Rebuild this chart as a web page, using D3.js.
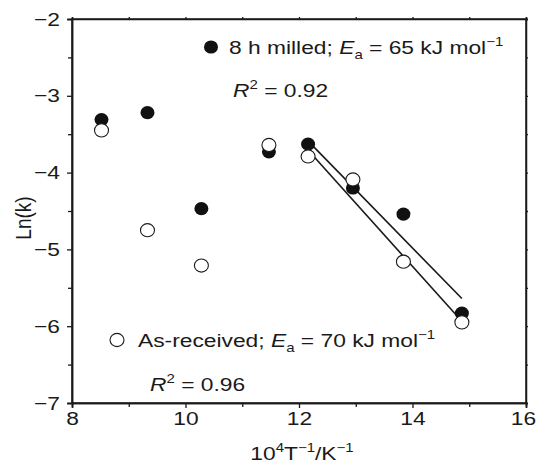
<!DOCTYPE html>
<html>
<head>
<meta charset="utf-8">
<script src="https://cdn.jsdelivr.net/npm/d3@7"></script>
<style>
  html, body { margin: 0; padding: 0; background: #fff; }
  svg { display: block; }
  text { font-family: "Liberation Sans", Arial, Helvetica, sans-serif; fill: #1a1a1a; }
</style>
</head>
<body>
<div id="chart"></div>
<script>
// Arrhenius data: x = 10^4/T (K^-1), y = ln(k)
const invT        = [8.52, 9.33, 10.28, 11.47, 12.16, 12.95, 13.84, 14.87];
const lnkMilled   = [-3.31, -3.22, -4.47, -3.73, -3.63, -4.20, -4.54, -5.83];
const lnkReceived = [-3.45, -4.75, -5.21, -3.64, -3.79, -4.09, -5.16, -5.95];

// Linear fits over the high-1/T range (endpoints: [x, y])
const fitMilled   = [[12.20, -3.62], [14.87, -5.64]];
const fitReceived = [[12.15, -3.70], [14.85, -5.92]];

const xTicks = [8, 10, 12, 14, 16];
const xMinor = [9, 11, 13, 15];
const yTicks = [-2, -3, -4, -5, -6, -7];
const yMinor = [-2.5, -3.5, -4.5, -5.5, -6.5];

const W = 537, H = 465;
const m = { left: 72, right: 11, top: 19, bottom: 62 };

const svg = d3.select("#chart").append("svg").attr("width", W).attr("height", H);

const x = d3.scaleLinear().domain([8, 16]).range([m.left, W - m.right]);
const y = d3.scaleLinear().domain([-7, -2]).range([H - m.bottom, m.top]);

const ink = "#1a1a1a";
const fs = 19;      // base font size
const sx = 1.2;     // horizontal widening of the lettering
const sub = 12.5;   // sub/superscript size

// Frame
svg.append("rect")
  .attr("x", x(8)).attr("y", y(-2))
  .attr("width", x(16) - x(8)).attr("height", y(-7) - y(-2))
  .attr("fill", "none").attr("stroke", ink).attr("stroke-width", 1.5);

// Bottom axis
const gx = svg.append("g").attr("transform", `translate(0,${y(-7)})`)
  .call(d3.axisBottom(x).tickValues(xTicks).tickSize(5).tickPadding(4).tickFormat(d3.format("d")));
gx.append("g").call(d3.axisBottom(x).tickValues(xMinor).tickSize(4).tickFormat(""));
gx.selectAll(".tick text").attr("transform", `scale(${sx},1)`)
  .attr("x", d => d === 16 ? -3 / sx : 0);

// Left axis
const gy = svg.append("g").attr("transform", `translate(${x(8)},0)`)
  .call(d3.axisLeft(y).tickValues(yTicks).tickSize(5)
    .tickFormat(d => d3.format("d")(d).replace("-", "\u2212")));
gy.append("g").call(d3.axisLeft(y).tickValues(yMinor).tickSize(4).tickFormat(""));
gy.selectAll(".tick text").attr("x", -12 / sx).attr("transform", `scale(${sx},1)`);

// Top and right axes (ticks only)
svg.append("g").attr("transform", `translate(0,${y(-2)})`)
  .call(d3.axisTop(x).tickValues(xTicks.concat(xMinor)).tickSize(2).tickFormat(""));
svg.append("g").attr("transform", `translate(${x(16)},0)`)
  .call(d3.axisRight(y).tickValues(yTicks.concat(yMinor)).tickSize(2).tickFormat(""));

svg.selectAll(".domain").attr("stroke", ink).attr("stroke-width", 1.5);
svg.selectAll(".tick line").attr("stroke", ink).attr("stroke-width", 1.3);
svg.selectAll(".tick text").attr("font-size", fs).attr("fill", ink)
  .style("font-family", '"Liberation Sans", Arial, sans-serif');

// Fit lines
const line = d3.line().x(d => x(d[0])).y(d => y(d[1]));
[fitMilled, fitReceived].forEach(f => {
  svg.append("path").attr("d", line(f))
    .attr("fill", "none").attr("stroke", ink).attr("stroke-width", 1.6);
});

const rx = 7, ry = 6.6;
// Filled markers: 8 h milled
svg.append("g").selectAll("ellipse").data(invT).join("ellipse")
  .attr("cx", d => x(d)).attr("cy", (d, i) => y(lnkMilled[i])).attr("rx", rx).attr("ry", ry)
  .attr("fill", "#111");
// Open markers: as-received
svg.append("g").selectAll("ellipse").data(invT).join("ellipse")
  .attr("cx", d => x(d)).attr("cy", (d, i) => y(lnkReceived[i])).attr("rx", rx).attr("ry", ry)
  .attr("fill", "#fff").attr("stroke", ink).attr("stroke-width", 1.1);

// Text placed at (px, py), widened horizontally
function label(px, py) {
  return svg.append("text")
    .attr("transform", `translate(${px},${py}) scale(${sx},1)`)
    .attr("font-size", fs);
}
function sup(t, s) { t.append("tspan").attr("font-size", sub).attr("dy", -8).text(s); }
function down(t, s) { t.append("tspan").attr("dy", 8).text(s); }

// "<label>; E_a = <val> kJ mol^-1"
function eaLabel(px, py, name, val) {
  const t = label(px, py);
  t.append("tspan").text(name + "; ");
  t.append("tspan").attr("font-style", "italic").text("E");
  t.append("tspan").attr("font-size", sub).attr("dy", 5).text("a");
  t.append("tspan").attr("dy", -5).text(" = " + val + " kJ mol");
  sup(t, "\u22121");
}
function r2Label(px, py, val) {
  const t = label(px, py);
  t.append("tspan").attr("font-style", "italic").text("R");
  sup(t, "2");
  down(t, " = " + val);
}

svg.append("ellipse").attr("cx", 211).attr("cy", 47).attr("rx", rx).attr("ry", ry).attr("fill", "#111");
eaLabel(229, 54, "8 h milled", "65");
r2Label(233, 97, "0.92");

svg.append("ellipse").attr("cx", 117).attr("cy", 340).attr("rx", rx).attr("ry", ry)
  .attr("fill", "#fff").attr("stroke", ink).attr("stroke-width", 1.1);
eaLabel(138, 347, "As-received", "70");
r2Label(150, 391, "0.96");

// Axis titles
svg.append("text")
  .attr("transform", `translate(31,218) rotate(-90) scale(1,${sx})`)
  .attr("text-anchor", "middle").attr("font-size", fs).text("Ln(k)");

const xt = svg.append("text")
  .attr("transform", `translate(302,460) scale(${sx},1)`)
  .attr("text-anchor", "middle").attr("font-size", fs);
xt.append("tspan").text("10");
sup(xt, "4");
down(xt, "T");
sup(xt, "\u22121");
down(xt, "/K");
sup(xt, "\u22121");
</script>
</body>
</html>
